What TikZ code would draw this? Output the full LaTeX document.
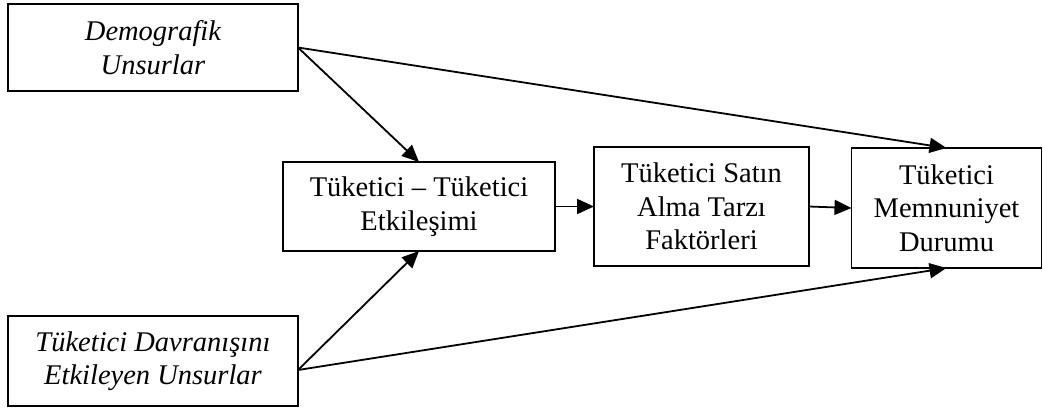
\documentclass[tikz,border=0pt]{standalone}
\usepackage{fontspec}
\setmainfont{Liberation Serif}
\usetikzlibrary{arrows.meta}
\tikzset{
  box/.style={draw=black, line width=1.8pt, inner sep=0pt, outer sep=0pt, align=center,
    font=\fontsize{28.5}{33.5}\selectfont},
  itbox/.style={box, font=\fontsize{28.5}{33.5}\selectfont\itshape},
  arr/.style={line width=1.8pt, -{Triangle[length=17pt,width=15pt]}}
}
\begin{document}
\begin{tikzpicture}[x=1pt,y=-1pt]
\useasboundingbox (0,0) rectangle (1043,408);
\node[itbox, minimum width=290pt, minimum height=87pt] (b1) at (153,47.5) {Demografik\\Unsurlar};
\node[itbox, minimum width=290pt, minimum height=90pt] (b5) at (153,361) {Tüketici Davranışını\\Etkileyen Unsurlar};
\node[box, minimum width=272pt, minimum height=89pt] (b2) at (419,206.5) {Tüketici -- Tüketici\\Etkileşimi};
\node[box, minimum width=215pt, minimum height=119pt] (b3) at (701.5,206.5) {Tüketici Satın\\Alma Tarzı\\Faktörleri};
\node[box, minimum width=190pt, minimum height=120pt] (b4) at (946.5,208) {Tüketici\\Memnuniyet\\Durumu};
\coordinate (s5) at ([yshift=-9pt]b5.east);
\draw[arr] (b1.east) -- (b2.north);
\draw[arr] (b1.east) -- (b4.north);
\draw[arr] (s5) -- (b2.south);
\draw[arr] (s5) -- (b4.south);
\draw[arr] (b2.east) -- (b3.west);
\draw[arr] (b3.east) -- (b4.west);
\end{tikzpicture}
\end{document}
